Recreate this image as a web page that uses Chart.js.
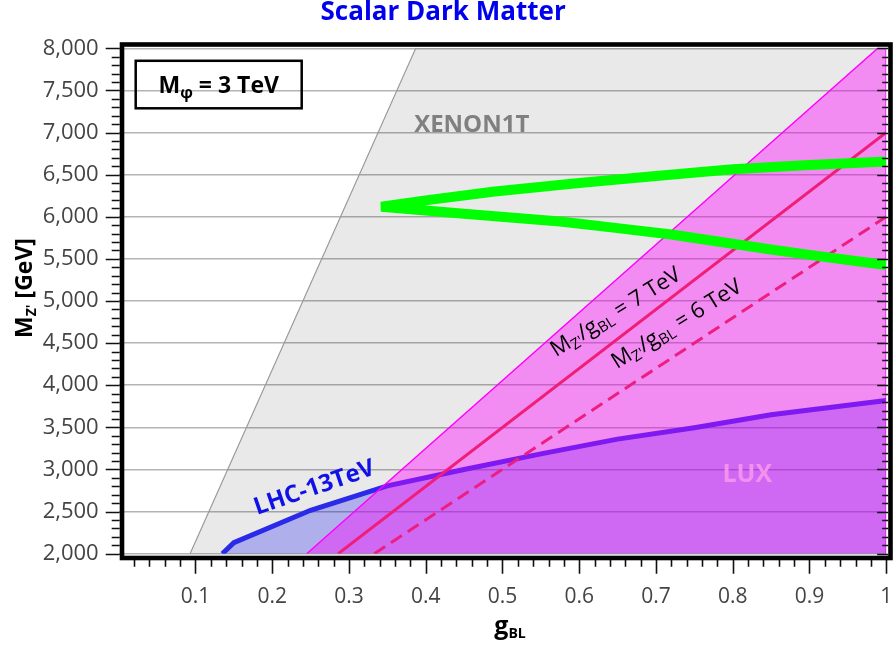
<!DOCTYPE html>
<html>
<head>
<meta charset="utf-8">
<script src="https://cdn.jsdelivr.net/npm/chart.js@4.4.1/dist/chart.umd.min.js"></script>
<style>
  html, body { margin: 0; padding: 0; background: #fff; }
  #wrap { position: relative; width: 893px; height: 651px; }
</style>
</head>
<body>
<div id="wrap"><canvas id="chart"></canvas></div>
<script>
// x = g_BL, y = M_Z' in GeV
const xTicks = [0.1, 0.2, 0.3, 0.4, 0.5, 0.6, 0.7, 0.8, 0.9, 1];
const xTickLabels = ["0.1", "0.2", "0.3", "0.4", "0.5", "0.6", "0.7", "0.8", "0.9", "1"];
const yTicks = [2000, 2500, 3000, 3500, 4000, 4500, 5000, 5500, 6000, 6500, 7000, 7500, 8000];
const yTickLabels = ["2,000", "2,500", "3,000", "3,500", "4,000", "4,500", "5,000", "5,500", "6,000", "6,500", "7,000", "7,500", "8,000"];

// XENON1T excluded region (edge)
const xenonG = [0.093, 0.387, 1.0];
const xenonM = [2000, 8000, 8000];

// LUX excluded region (edge)
const luxG = [0.245, 0.989, 1.0, 1.0];
const luxM = [2000, 8000, 8000, 2000];

// LHC 13 TeV bound
const lhcG = [0.135, 0.15, 0.25, 0.35, 0.45, 0.55, 0.65, 0.75, 0.85, 1.0];
const lhcM = [2000, 2130, 2515, 2805, 3000, 3185, 3360, 3495, 3650, 3820];

// M_Z'/g_BL = 7 TeV and 6 TeV
const sevenG = [0.286, 1.0];
const sevenM = [2000, 7000];
const sixG = [0.333, 1.0];
const sixM = [2000, 6000];

// relic density curve (upper branch right->tip, lower branch tip->right)
const relicG = [1.0, 0.9, 0.8, 0.7, 0.6, 0.49, 0.4, 0.342, 0.45, 0.575, 0.65, 0.72, 0.8, 0.85, 0.9, 0.96, 1.0];
const relicM = [6655, 6615, 6565, 6485, 6400, 6300, 6195, 6120, 6035, 5944, 5865, 5789, 5680, 5612, 5548, 5475, 5428];

const pts = (gs, ms) => gs.map((g, i) => ({ x: g, y: ms[i] }));

const FONT = "'Open Sans', 'Noto Sans', sans-serif";
Chart.defaults.font.family = FONT;

// draw text made of runs (for subscripts), centred on x
function drawRuns(ctx, runs, x, y, angle, color) {
    ctx.save();
    ctx.translate(x, y);
    ctx.rotate(angle * Math.PI / 180);
    ctx.fillStyle = color;
    ctx.textBaseline = "alphabetic";
    ctx.textAlign = "left";
    let total = 0;
    runs.forEach(r => { ctx.font = r[1]; total += ctx.measureText(r[0]).width; });
    let cx = -total / 2;
    runs.forEach(r => {
        ctx.font = r[1];
        ctx.fillText(r[0], cx, r[2] || 0);
        cx += ctx.measureText(r[0]).width;
    });
    ctx.restore();
}

const decor = {
    id: "decor",
    afterDatasetsDraw(chart) {
        const { ctx, scales: { x, y } } = chart;
        const px = (g) => x.getPixelForValue(g);
        const py = (m) => y.getPixelForValue(m);

        ctx.save();
        ctx.textAlign = "center";
        ctx.textBaseline = "alphabetic";
        ctx.font = "bold 24px " + FONT;
        ctx.fillStyle = "#808080";
        ctx.fillText("XENON1T", px(0.46), py(7005));

        ctx.font = "bold 25px " + FONT;
        ctx.fillStyle = "#f590ee";
        ctx.fillText("LUX", px(0.819), py(2852));
        ctx.restore();

        drawRuns(ctx, [["LHC-13TeV", "bold 24px " + FONT]], px(0.258), py(2703), -19, "#1010e8");

        const sub = "15px " + FONT, big = "22px " + FONT;
        drawRuns(ctx, [["M", big], ["Z'", sub, 4], ["/g", big], ["BL", sub, 4], [" = 7 TeV", big]],
            px(0.652), py(4800), -32, "#000");
        drawRuns(ctx, [["M", big], ["Z'", sub, 4], ["/g", big], ["BL", sub, 4], [" = 6 TeV", big]],
            px(0.7315), py(4658), -32, "#000");
    },
    afterDraw(chart) {
        const { ctx, chartArea: a, scales: { x, y } } = chart;
        ctx.save();

        // ticks
        ctx.strokeStyle = "#111";
        ctx.lineWidth = 1.6;
        ctx.beginPath();
        for (let m = 2000; m <= 8000; m += 100) {
            const yy = Math.round(y.getPixelForValue(m)) + 0.5;
            const major = m % 500 === 0;
            ctx.moveTo(a.left + 1, yy); ctx.lineTo(a.left - (major ? 13 : 7), yy);
            ctx.moveTo(a.right + 2, yy); ctx.lineTo(a.right - (major ? 9 : 4), yy);
        }
        for (let k = 1; k <= 50; k++) {
            const g = k / 50;
            const xx = Math.round(x.getPixelForValue(g)) + 0.5;
            const major = k % 5 === 0;
            ctx.moveTo(xx, a.bottom + 4); ctx.lineTo(xx, a.bottom + (major ? 20 : 13));
        }
        ctx.stroke();

        // frame
        ctx.strokeStyle = "#000";
        ctx.lineWidth = 4.6;
        ctx.strokeRect(a.left + 3.3, a.top - 3.8, (a.right + 4.3) - (a.left + 3.3), (a.bottom + 4.3) - (a.top - 3.8));

        // legend-like box
        ctx.lineWidth = 2.5;
        ctx.strokeRect(a.left + 17, a.top + 12.5, 166, 47.5);
        ctx.restore();
        drawRuns(ctx, [["M", "bold 23px " + FONT], ["\u03c6", "bold 16px " + FONT, 5], [" = 3 TeV", "bold 23px " + FONT]],
            a.left + 100, a.top + 45, 0, "#000");

        // axis titles
        drawRuns(ctx, [["g", "bold 25px " + FONT], ["BL", "bold 14px " + FONT, 4]], 510, 634, 0, "#000");
        drawRuns(ctx, [["M", "bold 23px " + FONT], ["Z'", "bold 14px " + FONT, 4], [" [GeV]", "bold 23px " + FONT]],
            32, 288, -90, "#000");
    }
};

const ctx = document.getElementById("chart").getContext("2d");

const chart = new Chart(ctx, {
    type: "scatter",
    data: {
        datasets: [
            {
                label: "XENON1T",
                data: pts(xenonG, xenonM),
                showLine: true,
                fill: "start",
                backgroundColor: "rgba(0, 0, 0, 0.085)",
                borderColor: "#9a9a9a",
                borderWidth: 1.2,
                pointRadius: 0,
                order: 6
            },
            {
                label: "LHC-13TeV",
                data: pts(lhcG, lhcM),
                showLine: true,
                fill: "start",
                backgroundColor: "rgba(20, 20, 240, 0.28)",
                borderColor: "#2a2ae8",
                borderWidth: 5,
                pointRadius: 0,
                order: 5
            },
            {
                label: "LUX",
                data: pts(luxG, luxM),
                showLine: true,
                fill: "start",
                backgroundColor: "rgba(255, 0, 255, 0.4)",
                borderColor: "#ff00ff",
                borderWidth: 1.5,
                pointRadius: 0,
                order: 4
            },
            {
                label: "6 TeV",
                data: pts(sixG, sixM),
                showLine: true,
                borderColor: "#ee1e80",
                borderWidth: 3,
                borderDash: [13, 7],
                pointRadius: 0,
                order: 3
            },
            {
                label: "7 TeV",
                data: pts(sevenG, sevenM),
                showLine: true,
                borderColor: "#f01e78",
                borderWidth: 3,
                pointRadius: 0,
                order: 2
            },
            {
                label: "Relic",
                data: pts(relicG, relicM),
                showLine: true,
                borderColor: "#00ff00",
                borderWidth: 10,
                borderJoinStyle: "bevel",
                pointRadius: 0,
                order: 1
            }
        ]
    },
    options: {
        responsive: true,
        maintainAspectRatio: false,
        animation: false,
        layout: { padding: { top: 0, right: 6.8, bottom: 0, left: 0 } },
        scales: {
            x: {
                type: "linear",
                min: 0,
                max: 1,
                grid: { display: false, drawTicks: false },
                border: { display: false },
                ticks: {
                    color: "#444",
                    font: { size: 21 },
                    padding: 31,
                    maxRotation: 0,
                    autoSkip: false,
                    callback: (v, i) => xTickLabels[i]
                },
                afterBuildTicks: s => { s.ticks = xTicks.map(v => ({ value: v })); },
                afterFit: s => { s.height = 97.3; s.paddingLeft = 0; s.paddingRight = 0; }
            },
            y: {
                type: "linear",
                min: 2000,
                max: 8000,
                grid: { color: "#b4b4b4", lineWidth: 1.5, drawTicks: false },
                border: { display: false },
                ticks: {
                    color: "#444",
                    font: { size: 22 },
                    padding: 20,
                    autoSkip: false,
                    callback: (v, i) => yTickLabels[i]
                },
                afterBuildTicks: s => { s.ticks = yTicks.map(v => ({ value: v })); },
                afterFit: s => { s.width = 118.7; s.paddingTop = 0; s.paddingBottom = 0; }
            }
        },
        plugins: {
            legend: { display: false },
            tooltip: { enabled: false },
            title: {
                display: true,
                text: "Scalar Dark Matter",
                color: "#0000ee",
                font: { size: 26, weight: "bold", lineHeight: 1 },
                padding: { top: 0, bottom: 22.3 }
            }
        }
    },
    plugins: [decor]
});
</script>
</body>
</html>
